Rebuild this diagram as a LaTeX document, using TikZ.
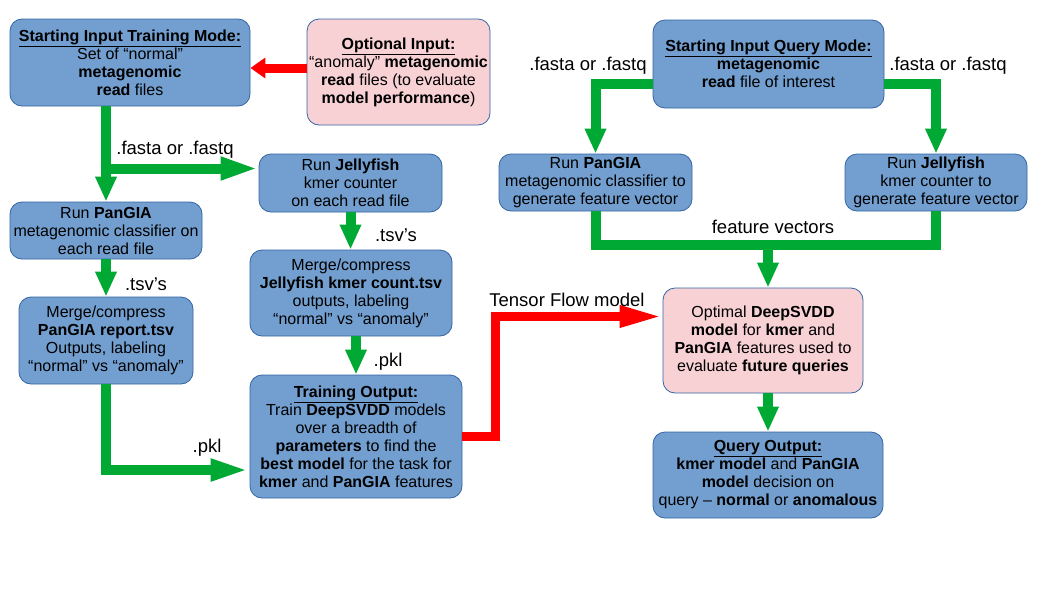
\documentclass[tikz,border=0pt]{standalone}
\usepackage{fontspec}
\setmainfont{Liberation Sans}
\usetikzlibrary{arrows.meta,calc}
\definecolor{boxblue}{HTML}{729FCF}
\definecolor{boxedge}{HTML}{3465A4}
\definecolor{boxpink}{HTML}{F8D1D5}
\definecolor{flowgreen}{HTML}{00A933}
\tikzset{
  box/.style={draw=boxedge, fill=boxblue, rounded corners=12pt, align=center, inner sep=0pt, line width=0.8pt},
  pinkbox/.style={box, fill=boxpink},
  greenflow/.style={draw=flowgreen, line width=10pt},
  greenarrow/.style={greenflow, -{Triangle[width=20pt,length=25pt]}},
  redflow/.style={draw=red, line width=9pt},
  lbl/.style={inner sep=0pt, font=\fontsize{18.5}{20}\selectfont}
}
\begin{document}
\begin{tikzpicture}[x=1pt,y=-1pt,font=\fontsize{16}{18}\selectfont]
\useasboundingbox (0,0) rectangle (1058,595);

% training side
\node[box, minimum width=240pt, minimum height=87pt] (trainstart) at (130,62.5) {\underline{\textbf{Starting Input Training Mode:}}\\Set of “normal”\\\textbf{metagenomic}\\\textbf{read} files};
\node[pinkbox, minimum width=183pt, minimum height=106pt] (optional) at (398.5,72) {\underline{\textbf{Optional Input:}}\\“anomaly” \textbf{metagenomic}\\\textbf{read} files (to evaluate\\\textbf{model performance})};
\node[box, minimum width=192pt, minimum height=57pt] (runpangia) at (106,230.5) {Run \textbf{PanGIA}\\metagenomic classifier on\\each read file};
\node[box, minimum width=183pt, minimum height=58pt] (runjelly) at (350.5,183) {Run \textbf{Jellyfish}\\kmer counter\\on each read file};
\node[box, minimum width=174pt, minimum height=87pt] (mergepangia) at (106,340.5) {Merge/compress\\\textbf{PanGIA report.tsv}\\Outputs, labeling\\“normal” vs “anomaly”};
\node[box, minimum width=202pt, minimum height=86pt] (mergejelly) at (351,293) {Merge/compress\\\textbf{Jellyfish kmer count.tsv}\\outputs, labeling\\“normal” vs “anomaly”};
\node[box, minimum width=212pt, minimum height=123pt] (trainout) at (356,436.5) {\underline{\textbf{Training Output:}}\\Train \textbf{DeepSVDD} models\\over a breadth of\\\textbf{parameters} to find the\\\textbf{best model} for the task for\\\textbf{kmer} and \textbf{PanGIA} features};

% query side
\node[box, minimum width=231pt, minimum height=88pt] (qstart) at (768.5,64) {\underline{\textbf{Starting Input Query Mode:}}\\\textbf{metagenomic}\\\textbf{read} file of interest};
\node[box, minimum width=193pt, minimum height=57pt] (pangiaq) at (595.5,182.5) {Run \textbf{PanGIA}\\metagenomic classifier to\\generate feature vector};
\node[box, minimum width=182pt, minimum height=57pt] (jellyq) at (936,182.5) {Run \textbf{Jellyfish}\\kmer counter to\\generate feature vector};
\node[pinkbox, minimum width=200pt, minimum height=105pt] (optimal) at (763,340.5) {Optimal \textbf{DeepSVDD}\\\textbf{model} for \textbf{kmer} and\\\textbf{PanGIA} features used to\\evaluate \textbf{future queries}};
\node[box, minimum width=230pt, minimum height=86pt] (queryout) at (768,475) {\underline{\textbf{Query Output:}}\\\textbf{kmer model} and \textbf{PanGIA}\\\textbf{model} decision on\\query – \textbf{normal} or \textbf{anomalous}};

% junction points
\coordinate (fork) at (106,168.5);
\coordinate (optin) at ($(optional.west)+(0,-4)$);
\coordinate (fvjoin) at (768,245);

% green flows, training
\draw[greenarrow] (runpangia.north |- trainstart.south) -- (runpangia.north);
\draw[greenarrow, -{Triangle[width=21pt,length=38pt]}] (fork) -- (fork -| runjelly.west);
\draw[greenarrow] (runpangia.south) -- (mergepangia.north);
\draw[greenarrow] (runjelly.south) -- (runjelly.south |- mergejelly.north);
\draw[greenarrow] (trainout.north |- mergejelly.south) -- (trainout.north);
\draw[greenarrow, -{Triangle[width=20pt,length=39pt]}] (mergepangia.south) |- ($(trainout.west)+(0,33.5)$);

% green flows, query
\draw[greenarrow] ($(qstart.west)+(0,20)$) -| (pangiaq.north);
\draw[greenarrow] ($(qstart.east)+(0,20)$) -| (jellyq.north);
\draw[greenflow] (pangiaq.south) |- (jellyq.south |- fvjoin) -- (jellyq.south);
\draw[greenarrow] (fvjoin) -- (fvjoin |- optimal.north);
\draw[greenarrow] (queryout.north |- optimal.south) -- (queryout.north);

% red flows
\draw[redflow, -{Triangle[width=20pt,length=15pt]}] (optin) -- (optin -| trainstart.east);
\draw[redflow, -{Triangle[width=20pt,length=43pt]}] (trainout.east) -- ++(33,0) |- ($(optimal.west)+(0,-24)$);

% flow labels
\node[lbl] (fasta1) at (175,150) {.fasta or .fastq};
\node[lbl] (tsv1) at (146,284) {.tsv's};
\node[lbl] (tsv2) at (396,235) {.tsv's};
\node[lbl] (pkl1) at (388,362) {.pkl};
\node[lbl] (pkl2) at (207,448) {.pkl};
\node[lbl] (tfmodel) at (567,300) {Tensor Flow model};
\node[lbl] (fasta2) at (588,66) {.fasta or .fastq};
\node[lbl] (fasta3) at (948,66) {.fasta or .fastq};
\node[lbl] (fvec) at (773,227) {feature vectors};

\end{tikzpicture}
\end{document}
